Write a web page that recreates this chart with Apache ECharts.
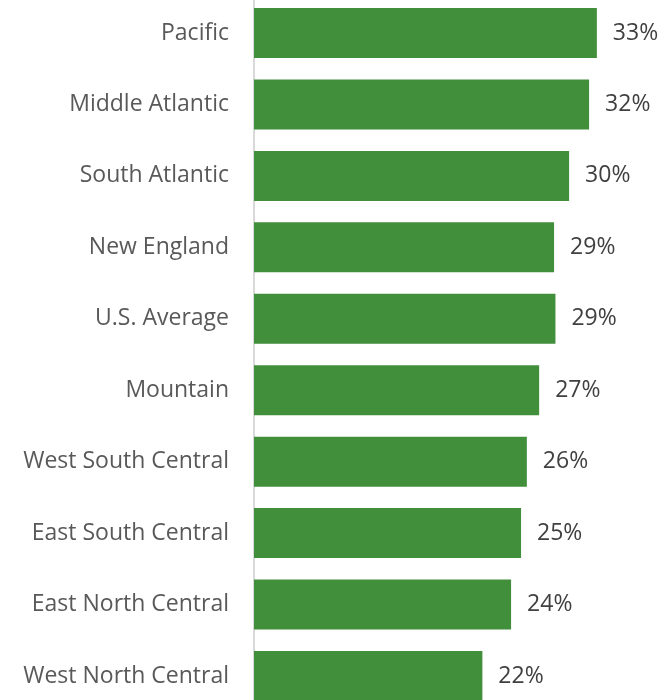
<!DOCTYPE html>
<html>
<head>
<meta charset="utf-8">
<script src="https://cdn.jsdelivr.net/npm/echarts@6/dist/echarts.min.js"></script>
<style>html,body{margin:0;padding:0;background:#fff}#c{width:662px;height:700px}</style>
</head>
<body>
<div id="c"></div>
<script>
const categories = ["Pacific","Middle Atlantic","South Atlantic","New England","U.S. Average","Mountain","West South Central","East South Central","East North Central","West North Central"];
const values = [32.61, 31.87, 29.97, 28.54, 28.67, 27.12, 25.95, 25.40, 24.45, 21.72];

const chart = echarts.init(document.getElementById('c'));
chart.setOption({
  animation: false,
  grid: { left: 254, right: 40, top: -2.7, height: 714.4, containLabel: false, outerBoundsMode: 'none' },
  xAxis: { type: 'value', min: 0, max: 35, show: false },
  yAxis: {
    type: 'category', data: categories, inverse: true,
    axisLine: { show: true, lineStyle: { color: '#d9d9d9', width: 2 } },
    axisTick: { show: false },
    axisLabel: { margin: 25, fontSize: 23, color: '#595959', fontFamily: 'Open Sans' }
  },
  series: [{
    type: 'bar', data: values, barWidth: 50,
    itemStyle: { color: '#418E3B' },
    label: {
      show: true, position: 'right', distance: 16,
      fontSize: 23, color: '#404040', fontFamily: 'Open Sans',
      formatter: p => Math.round(p.value) + '%'
    }
  }]
});
</script>
</body>
</html>
